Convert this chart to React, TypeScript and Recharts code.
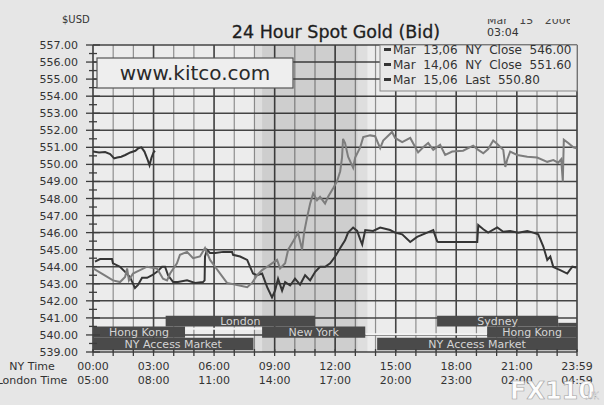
import React from "react";
import {
  LineChart,
  Line,
  XAxis,
  YAxis,
  CartesianGrid,
  ReferenceArea,
} from "recharts";

const FONT = "'DejaVu Sans', Verdana, sans-serif";

// times are NY hours (0 = 00:00, 23.983 = 23:59)
const mar15Times = [0, 0.3, 0.6, 0.85, 1.05, 1.2, 1.4, 1.6, 1.85, 2.1, 2.25, 2.4, 2.55, 2.7, 2.8, 2.9, 3.0, 3.07];
const mar15Prices = [550.75, 550.7, 550.72, 550.6, 550.35, 550.4, 550.45, 550.55, 550.7, 550.8, 550.95, 551.0, 550.75, 550.3, 549.95, 550.4, 550.7, 550.8];

const mar14Times = [
  0, 0.5, 0.99, 1.34, 1.59, 1.69, 1.78, 1.98, 2.33, 2.68, 3.17, 3.47, 3.67, 3.82, 4.16, 4.31, 4.66, 4.96, 5.3, 5.55,
  5.8, 6.05, 6.3, 6.64, 7.14, 7.64, 7.88, 8.13, 8.38, 8.63, 8.87, 9.12, 9.27, 9.52, 9.67, 9.92, 10.16, 10.36, 10.46,
  10.61, 10.76, 10.91, 11.1, 11.25, 11.5, 11.65, 11.9, 12.09, 12.25, 12.34, 12.39, 12.49, 12.64, 12.89, 12.99, 13.24,
  13.39, 13.73, 13.98, 14.23, 14.38, 14.82, 14.97, 15.32, 15.72, 15.97, 16.11, 16.36, 16.61, 16.86, 17.2, 17.45, 17.8,
  18.34, 18.59, 18.84, 19.09, 19.34, 19.58, 19.83, 20.03, 20.33, 20.43, 20.53, 20.67, 21.02, 21.52, 22.01, 22.51,
  22.81, 23.05, 23.2, 23.28, 23.33, 23.55, 23.8, 23.95,
];
const mar14Prices = [
  543.9, 543.55, 543.2, 543.1, 543.4, 543.9, 543.2, 543.6, 543.8, 544.0, 543.9, 543.3, 543.2, 543.6, 544.2, 544.7,
  544.87, 544.5, 544.6, 545.1, 544.4, 544.0, 543.6, 543.05, 542.93, 542.8, 543.05, 543.5, 543.8, 544.0, 544.2, 544.4,
  543.9, 544.2, 545.0, 545.5, 546.0, 545.0, 546.0, 546.9, 547.7, 548.3, 547.9, 548.1, 547.7, 548.1, 548.6, 549.0,
  549.6, 550.4, 551.5, 551.25, 550.45, 549.8, 550.4, 551.0, 551.6, 551.7, 551.65, 550.95, 551.4, 551.9, 551.55,
  551.3, 551.55, 551.0, 550.7, 551.0, 551.25, 550.85, 551.15, 550.55, 550.75, 550.8, 550.95, 551.1, 550.85, 550.65,
  550.9, 551.4, 551.2, 550.85, 549.85, 550.3, 550.75, 550.55, 550.45, 550.4, 550.15, 550.25, 550.1, 550.3, 549.0,
  551.45, 551.25, 551.0, 550.95,
];

const mar13Times = [
  0.1, 0.35, 0.94, 0.99, 1.34, 1.59, 1.83, 2.08, 2.23, 2.43, 2.68, 2.93, 3.17, 3.42, 3.57, 3.72, 3.97, 4.21, 4.66,
  5.06, 5.45, 5.53, 5.55, 5.65, 5.8, 6.05, 6.45, 6.89, 6.94, 7.29, 7.64, 7.78, 7.93, 8.13, 8.38, 8.63, 8.87, 9.02,
  9.17, 9.37, 9.52, 9.77, 10.01, 10.26, 10.51, 10.76, 11.01, 11.25, 11.5, 11.75, 12.0, 12.25, 12.49, 12.64, 12.89,
  13.09, 13.24, 13.34, 13.49, 13.88, 14.23, 14.72, 14.97, 15.32, 15.72, 16.06, 16.56, 16.86, 17.05, 17.1, 19.04,
  19.09, 19.34, 19.58, 20.03, 20.33, 20.67, 21.07, 21.52, 21.81, 22.06, 22.31, 22.51, 22.66, 22.81, 23.15, 23.5,
  23.75, 23.95,
];
const mar13Prices = [
  544.3, 544.45, 544.45, 544.2, 544.0, 543.7, 543.4, 542.75, 542.93, 543.35, 543.35, 543.5, 543.7, 544.0, 544.0,
  543.5, 543.1, 543.1, 543.2, 543.05, 543.1, 543.2, 544.6, 545.0, 544.8, 544.8, 544.87, 544.87, 544.7, 544.6, 544.4,
  544.0, 543.6, 543.5, 543.6, 542.8, 542.2, 542.6, 543.3, 542.6, 543.1, 542.9, 543.3, 542.95, 543.5, 543.2, 543.7,
  544.0, 544.0, 544.2, 544.6, 545.1, 545.55, 546.0, 546.3, 546.1, 545.6, 545.3, 546.15, 546.1, 546.3, 546.15, 546.0,
  545.9, 545.45, 545.75, 546.0, 546.15, 545.5, 545.45, 545.45, 546.45, 546.2, 546.0, 546.3, 546.05, 546.1, 546.0,
  546.1, 546.0, 545.9, 545.2, 544.4, 544.6, 543.98, 543.8, 543.6, 544.0, 543.95,
];

const priceLabels = [539, 540, 541, 542, 543, 544, 545, 546, 547, 548, 549, 550, 551, 552, 553, 554, 555, 556, 557];
const hourLines = [0, 1, 2, 3, 4, 5, 6, 7, 8, 9, 10, 11, 12, 13, 14, 15, 16, 17, 18, 19, 20, 21, 22, 23, 23.983];
const nyTicks = [0, 3, 6, 9, 12, 15, 18, 21, 23.983];
const nyLabels = ["00:00", "03:00", "06:00", "09:00", "12:00", "15:00", "18:00", "21:00", "23:59"];
const londonLabels = ["05:00", "08:00", "11:00", "14:00", "17:00", "20:00", "23:00", "02:00", "04:59"];

// trading sessions (NY hours) and their strip row
const sessions = [
  { name: "London", start: 3.6, end: 11.0, row: 0 },
  { name: "Sydney", start: 17.05, end: 23.05, row: 0 },
  { name: "", start: 23.05, end: 23.983, row: 3 },
  { name: "Hong Kong", start: 0, end: 4.56, row: 1 },
  { name: "New York", start: 8.38, end: 13.49, row: 1 },
  { name: "Hong Kong", start: 19.53, end: 23.983, row: 1 },
  { name: "NY Access Market", start: 0, end: 7.95, row: 2 },
  { name: "NY Access Market", start: 14.08, end: 23.983, row: 2 },
];
const gaps = [
  { start: 4.56, end: 8.38, y1: 540.3, y2: 540.42 },
  { start: 13.49, end: 19.53, y1: 539.98, y2: 540.1 },
];
const ROWS = [
  [540.49, 541.13],
  [539.84, 540.49],
  [539.1, 539.84],
  [540.49, 540.71],
];

const legendRows = [
  "Mar  13,06  NY  Close  546.00",
  "Mar  14,06  NY  Close  551.60",
  "Mar  15,06  Last  550.80",
];

const zip = (ts: number[], vs: number[]) => ts.map((t, i) => ({ t, v: vs[i] }));
const mar13 = zip(mar13Times, mar13Prices);
const mar14 = zip(mar14Times, mar14Prices);
const mar15 = zip(mar15Times, mar15Prices);

const YTick = (props: any) => {
  const { x, y, payload } = props;
  const v = payload.value;
  const major = Number.isInteger(v);
  const len = major ? 7 : 4;
  return (
    <g>
      <line x1={x - len} x2={x + len} y1={y} y2={y} stroke="#3c3c3c" strokeWidth={1.3} />
      {major && (
        <text x={x - 15} y={y} dy={4} textAnchor="end" fontSize={11} fill="#333" fontFamily={FONT}>
          {v.toFixed(2)}
        </text>
      )}
    </g>
  );
};

const XTick = (props: any) => {
  const { x, y, payload } = props;
  const i = nyTicks.indexOf(payload.value);
  return (
    <g>
      <line x1={x} x2={x} y1={y - 3} y2={y + 4} stroke="#3c3c3c" strokeWidth={1.3} />
      {i >= 0 && (
        <>
          <text x={x} y={y + 18} textAnchor="middle" fontSize={11} fill="#333" fontFamily={FONT}>
            {nyLabels[i]}
          </text>
          <text x={x} y={y + 32} textAnchor="middle" fontSize={11} fill="#333" fontFamily={FONT}>
            {londonLabels[i]}
          </text>
        </>
      )}
    </g>
  );
};

export default function App() {
  return (
    <div style={{ position: "absolute", left: 0, top: 0, width: 604, height: 405, background: "#e6e6e6", overflow: "hidden" }}>
      <LineChart width={604} height={405} margin={{ top: 45, right: 27, bottom: 13, left: 0 }}>
        <XAxis
          type="number"
          dataKey="t"
          domain={[0, 23.983]}
          ticks={hourLines}
          tick={<XTick />}
          tickSize={0}
          tickMargin={0}
          tickLine={false}
          axisLine={false}
          height={40}
          interval={0}
          allowDataOverflow
        />
        <YAxis
          type="number"
          domain={[539, 557]}
          ticks={[...priceLabels, ...priceLabels.slice(0, -1).map((p) => p + 0.5)]}
          tick={<YTick />}
          tickSize={0}
          tickMargin={0}
          tickLine={false}
          axisLine={false}
          width={93}
          interval={0}
          allowDataOverflow
        />
        <CartesianGrid horizontal={false} verticalValues={hourLines} stroke="#8e8e8e" strokeWidth={1.2} fill="#ececec" />
        <ReferenceArea x1={8.0} x2={13.6} y1={539} y2={557} fill="#000" fillOpacity={0.06} stroke="none" />
        <ReferenceArea x1={8.38} x2={13.1} y1={539} y2={557} fill="#000" fillOpacity={0.07} stroke="none" />
        <CartesianGrid verticalValues={nyTicks} horizontalValues={priceLabels} stroke="#444" strokeWidth={1.5} />
        {gaps.map((g, i) => (
          <ReferenceArea key={"g" + i} x1={g.start} x2={g.end} y1={g.y1} y2={g.y2} fill="#f3f3f3" fillOpacity={1} stroke="none" />
        ))}
        {sessions.map((s, i) => (
          <ReferenceArea
            key={"s" + i}
            x1={s.start}
            x2={s.end}
            y1={ROWS[s.row][0]}
            y2={ROWS[s.row][1]}
            fill="#4a4a4a"
            fillOpacity={1}
            stroke="none"
            label={s.name ? { value: s.name, position: "center", fill: "#d4d4d4", fontSize: 11, fontFamily: FONT } : undefined}
          />
        ))}
        <Line data={mar13} dataKey="v" type="linear" stroke="#353535" strokeWidth={2} dot={false} isAnimationActive={false} />
        <Line data={mar14} dataKey="v" type="linear" stroke="#7d7d7d" strokeWidth={2} dot={false} isAnimationActive={false} />
        <Line data={mar15} dataKey="v" type="linear" stroke="#353535" strokeWidth={2} dot={false} isAnimationActive={false} />
      </LineChart>
      <svg width={604} height={405} style={{ position: "absolute", left: 0, top: 0, pointerEvents: "none" }} fontFamily={FONT}>
        <defs>
          <clipPath id="dateClip">
            <rect x={480} y={19} width={90} height={8} />
          </clipPath>
        </defs>
        <text x={62} y={23} fontSize={10} fill="#333">$USD</text>
        <text x={336} y={38} textAnchor="middle" fontSize={17.5} fill="#1e1e1e" stroke="#1e1e1e" strokeWidth={0.3}>24 Hour Spot Gold (Bid)</text>
        <text x={487} y={24} fontSize={11} fill="#444" clipPath="url(#dateClip)" wordSpacing={8}>Mar 15 2006</text>
        <text x={487} y={36} fontSize={11} fill="#333">03:04</text>
        <rect x={97} y={58} width={196} height={30} fill="#eeeeee" stroke="#555" strokeWidth={1.2} />
        <text x={195} y={80} textAnchor="middle" fontSize={20} fill="#2a2a2a">www.kitco.com</text>
        <rect x={380} y={45} width={197} height={46} fill="#e8e8e8" stroke="#888" strokeWidth={1} />
        {legendRows.map((r, i) => (
          <g key={r}>
            <rect x={384} y={48 + i * 15} width={7} height={3} fill="#333" />
            <text x={393} y={54 + i * 15} fontSize={12} fill="#333" style={{ whiteSpace: "pre" }}>{r}</text>
          </g>
        ))}
        <text x={32} y={370} textAnchor="middle" fontSize={11} fill="#333">NY Time</text>
        <text x={32} y={384} textAnchor="middle" fontSize={11} fill="#333">London Time</text>
        <text x={510} y={399} fontSize={24} fontWeight="bold" fill="#fff" stroke="#999" strokeWidth={0.6} opacity={0.92}>FX110</text>
        <text x={585} y={399} fontSize={8} fill="#fff" stroke="#999" strokeWidth={0.3}>.UK</text>
      </svg>
    </div>
  );
}
